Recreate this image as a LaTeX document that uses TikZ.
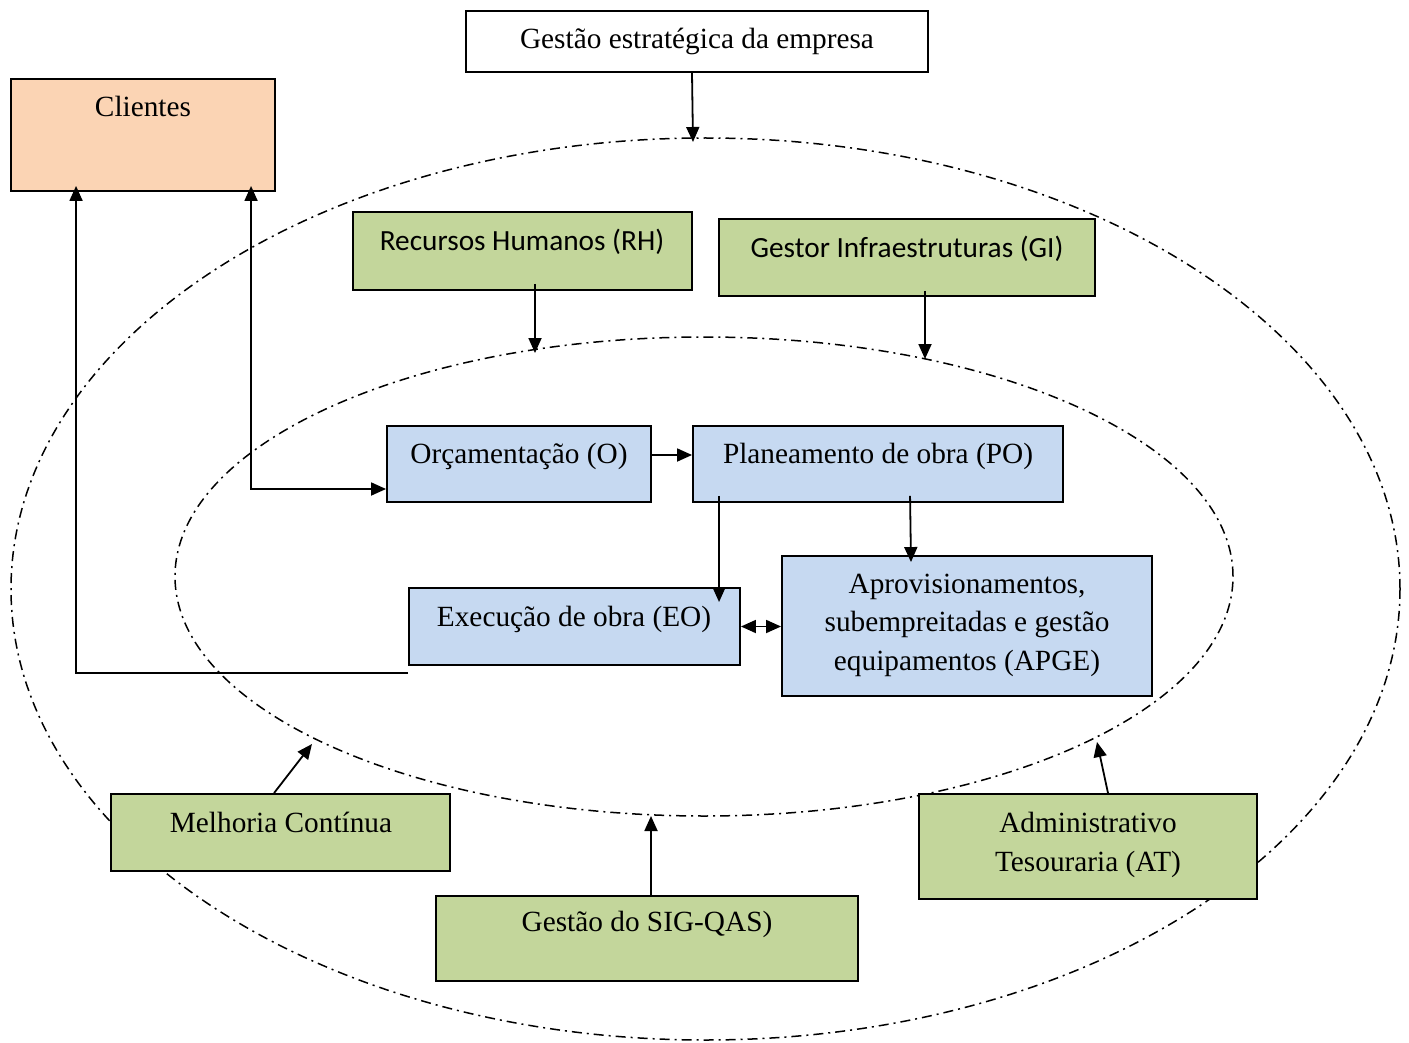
\documentclass[tikz,border=0pt]{standalone}
\usepackage{fontspec}
\setmainfont{Liberation Serif}
\newfontfamily\calfont{Carlito}
\usetikzlibrary{arrows.meta,fit,shapes.geometric}
\definecolor{peach}{HTML}{FBD4B4}
\definecolor{olivegreen}{HTML}{C3D69B}
\definecolor{lightblue}{HTML}{C6D9F1}
\begin{document}
\begin{tikzpicture}[x=1pt,y=-1pt,
  box/.style={draw, line width=1.9pt, inner sep=0pt},
  txt/.style={font=\fontsize{29.3}{38.5}\selectfont, inner sep=0pt, align=center, anchor=base},
  ctxt/.style={font=\calfont\fontsize{29.3}{36}\selectfont, inner sep=0pt, anchor=base},
  conn/.style={line width=1.8pt, -{Triangle[length=15pt,width=13pt]}},
  dconn/.style={line width=1.8pt, {Triangle[length=15pt,width=13pt]}-{Triangle[length=15pt,width=13pt]}},
  dd/.style={line width=1.5pt, dash pattern=on 10pt off 5pt on 2pt off 5pt}]
\useasboundingbox (0,0) rectangle (1409,1043);
\fill[white] (0,0) rectangle (1409,1043);
% ellipses
\node[ellipse, dd, draw, minimum width=1389pt, minimum height=902pt, inner sep=0pt] (outer) at (705.5,589) {};
\node[ellipse, dd, draw, minimum width=1058pt, minimum height=479pt, inner sep=0pt] (inner) at (704,576.5) {};
% boxes
\node[box, fill=white, fit={(466,11) (928,72)}] (top) {};
\node[txt] (top-t) at (697,49) {Gestão estratégica da empresa};
\node[box, fill=peach, fit={(11,79) (275,191)}] (cli) {};
\node[txt] (cli-t) at (143,117) {Clientes};
\node[box, fill=olivegreen, fit={(353,212) (692,290)}] (rh) {};
\node[ctxt] (rh-t) at (522,251) {Recursos Humanos (RH)};
\node[box, fill=olivegreen, fit={(719,219) (1095,296)}] (gi) {};
\node[ctxt] (gi-t) at (907,258) {Gestor Infraestruturas (GI)};
\node[box, fill=lightblue, fit={(387,426) (651,502)}] (o) {};
\node[txt] (o-t) at (519,463) {Orçamentação (O)};
\node[box, fill=lightblue, fit={(693,426) (1063,502)}] (po) {};
\node[txt] (po-t) at (878,463) {Planeamento de obra (PO)};
\node[box, fill=lightblue, fit={(409,588) (740,665)}] (eo) {};
\node[txt] (eo-t) at (574,626) {Execução de obra (EO)};
\node[box, fill=lightblue, fit={(782,556) (1152,696)}] (apge) {};
\node[txt] (apge-t) at (967,670) {Aprovisionamentos,\\subempreitadas e gestão\\equipamentos (APGE)};
\node[box, fill=olivegreen, fit={(111,794) (450,871)}] (mc) {};
\node[txt] (mc-t) at (281,832) {Melhoria Contínua};
\node[box, fill=olivegreen, fit={(436,896) (858,981)}] (sig) {};
\node[txt] (sig-t) at (647,931) {Gestão do SIG-QAS)};
\node[box, fill=olivegreen, fit={(919,794) (1257,899)}] (at) {};
\node[txt] (at-t) at (1088,871) {Administrativo\\Tesouraria (AT)};
% arrow end points on ellipses
\coordinate (e-top) at (693,142);
\coordinate (e-rh) at (535,353);
\coordinate (e-gi) at (925,359);
\coordinate (e-mc) at (312,744);
\coordinate (e-sig) at (651,816);
\coordinate (e-at) at (1097,742);
% connectors
\draw[conn] ([xshift=-5pt]top.south) -- (e-top);
\draw[conn] ([xshift=12.5pt,yshift=7pt]rh.south) -- (e-rh);
\draw[conn] ([xshift=18pt,yshift=6pt]gi.south) -- (e-gi);
\draw[conn] ([yshift=9pt]o.east) -- ([yshift=9pt]po.west);
\draw[conn] ([xshift=27pt,yshift=7pt]po.south west) -- ([xshift=311pt,yshift=-15pt]eo.north west);
\draw[conn] ([xshift=218pt,yshift=7pt]po.south west) -- ([xshift=-56pt,yshift=-7pt]apge.north);
\draw[dconn] (eo.east) -- (eo.east -| apge.west);
\draw[conn] ([yshift=-7pt]eo.south west) -| ([xshift=66pt,yshift=6pt]cli.south west);
\draw[dconn] ([xshift=241pt,yshift=6pt]cli.south west) |- ([yshift=-25pt]o.west);
\draw[conn] ([xshift=164pt]mc.north west) -- (e-mc);
\draw[conn] ([xshift=4pt]sig.north) -- (e-sig);
\draw[conn] ([xshift=20pt]at.north) -- (e-at);
\end{tikzpicture}
\end{document}
